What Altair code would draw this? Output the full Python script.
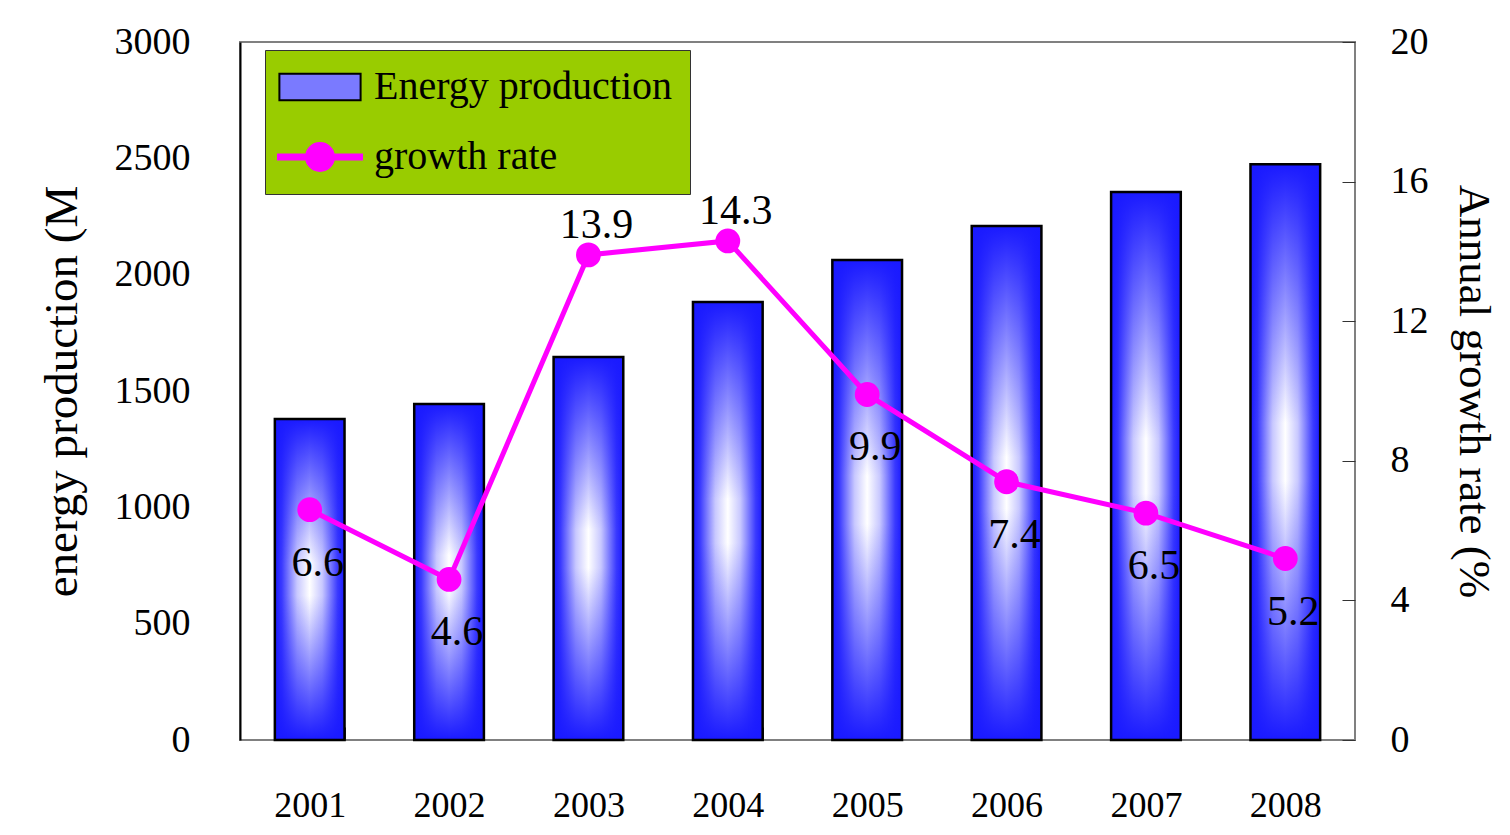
import altair as alt
import pandas as pd

# ---- data ----
years = ["2001", "2002", "2003", "2004", "2005", "2006", "2007", "2008"]
energy = [1380, 1444, 1646, 1882, 2063, 2209, 2355, 2475]
growth = [6.6, 4.6, 13.9, 14.3, 9.9, 7.4, 6.5, 5.2]
left_ticks = [0, 500, 1000, 1500, 2000, 2500, 3000]
right_ticks = [0, 4, 8, 12, 16, 20]
series_names = ["Energy production", "growth rate"]

df = pd.DataFrame({"year": years, "energy": energy, "growth": growth})
legend_df = pd.DataFrame({"series": series_names})

FONT = "Liberation Serif"
BLUE = "#1a1aff"
MAGENTA = "#ff00ff"

h_grad = alt.Gradient(
    gradient="linear", x1=0, y1=0, x2=1, y2=0,
    stops=[
        alt.GradientStop(color=BLUE, offset=0),
        alt.GradientStop(color="#3a3aff", offset=0.1),
        alt.GradientStop(color="#c8c8ff", offset=0.32),
        alt.GradientStop(color="#ffffff", offset=0.5),
        alt.GradientStop(color="#c8c8ff", offset=0.68),
        alt.GradientStop(color="#3a3aff", offset=0.9),
        alt.GradientStop(color=BLUE, offset=1),
    ],
)
v_grad = alt.Gradient(
    gradient="linear", x1=0, y1=0, x2=0, y2=1,
    stops=[
        alt.GradientStop(color="rgba(26,26,255,1)", offset=0),
        alt.GradientStop(color="rgba(26,26,255,0)", offset=0.45),
        alt.GradientStop(color="rgba(26,26,255,0)", offset=0.55),
        alt.GradientStop(color="rgba(26,26,255,1)", offset=1),
    ],
)

x_enc = alt.X(
    "year:N", sort=years,
    scale=alt.Scale(paddingInner=0.5, paddingOuter=0.25),
    axis=alt.Axis(title=None, labelAngle=0, labelFont=FONT, labelFontSize=36,
                  labelColor="black", labelPadding=48, domain=False, ticks=True,
                  tickBand="extent", tickSize=13, tickColor="#333333",
                  offset=-13, grid=False),
)

y_left = alt.Y(
    "energy:Q", scale=alt.Scale(domain=[0, 3000], nice=False),
    axis=alt.Axis(orient="left", values=left_ticks, format="d",
                  title="energy production (M",
                  titleFont=FONT, titleFontSize=47, titleFontWeight="normal",
                  titleColor="black", titlePadding=28, labelFont=FONT,
                  labelFontSize=38, labelColor="black", labelPadding=50,
                  ticks=False, tickSize=0, domain=True, domainColor="black",
                  domainWidth=2, grid=False),
)

y_right = alt.Y(
    "growth:Q", scale=alt.Scale(domain=[0, 20], nice=False),
    axis=alt.Axis(orient="right", values=right_ticks, format="d",
                  title="Annual growth rate (%",
                  titleFont=FONT, titleFontSize=45, titleFontWeight="normal",
                  titleColor="black", titlePadding=22, labelFont=FONT,
                  labelFontSize=38, labelColor="black", labelPadding=35,
                  ticks=True, tickSize=13, tickColor="#333333", offset=-13,
                  domain=False, grid=False),
)

bar1 = alt.Chart(df).mark_bar(fill=h_grad).encode(x=x_enc, y=y_left)
bar2 = alt.Chart(df).mark_bar(fill=v_grad, stroke="black", strokeWidth=2.5).encode(
    x=x_enc, y=y_left)
bars = alt.layer(bar1, bar2)

line = alt.Chart(df).mark_line(color=MAGENTA, strokeWidth=5).encode(x=x_enc, y=y_right)
pts = alt.Chart(df).mark_circle(color=MAGENTA, size=616, opacity=1).encode(x=x_enc, y=y_right)
txt_below = alt.Chart(df).transform_filter("datum.growth <= 12").mark_text(
    font=FONT, fontSize=42, color="black", dx=8, dy=53, baseline="middle").encode(
    x=x_enc, y=y_right, text=alt.Text("growth:Q", format=".1f"))
txt_above = alt.Chart(df).transform_filter("datum.growth > 12").mark_text(
    font=FONT, fontSize=42, color="black", dx=8, dy=-30, baseline="middle").encode(
    x=x_enc, y=y_right, text=alt.Text("growth:Q", format=".1f"))

rect_path = "M-2.9,-0.95H2.9V0.95H-2.9Z"
line_path = "M-3,-0.18H3V0.18H-3Z M1,0 A1,1 0 1,1 -1,0 A1,1 0 1,1 1,0Z"

leg = alt.Legend(title=None, orient="none", legendX=25, legendY=8,
                 fillColor="#99cc00", strokeColor="#333333", padding=17,
                 symbolSize=784, symbolStrokeWidth=2, symbolOffset=18,
                 symbolOpacity=1, labelOffset=34, labelFont=FONT,
                 labelFontSize=40, labelColor="black", labelLimit=500,
                 rowPadding=30, direction="vertical")

legend_layer = alt.Chart(legend_df).mark_point(filled=True, opacity=0).encode(
    fill=alt.Fill("series:N", scale=alt.Scale(domain=series_names, range=["#7a7aff", MAGENTA]), legend=leg),
    stroke=alt.Stroke("series:N", scale=alt.Scale(domain=series_names, range=["black", MAGENTA]), legend=leg),
    shape=alt.Shape("series:N", scale=alt.Scale(domain=series_names, range=[rect_path, line_path]), legend=leg),
)

right = alt.layer(line, pts, txt_below, txt_above, legend_layer)

chart = alt.layer(bars, right).resolve_scale(y="independent").properties(
    width=1115, height=698,
    padding={"left": 232, "top": 34, "right": 147, "bottom": 85},
    autosize=alt.AutoSizeParams(type="none"),
).configure_view(fill="#c8ffff", stroke="#808080", strokeWidth=2)

chart.save("out.html", embed_options={"renderer": "svg", "actions": False})
